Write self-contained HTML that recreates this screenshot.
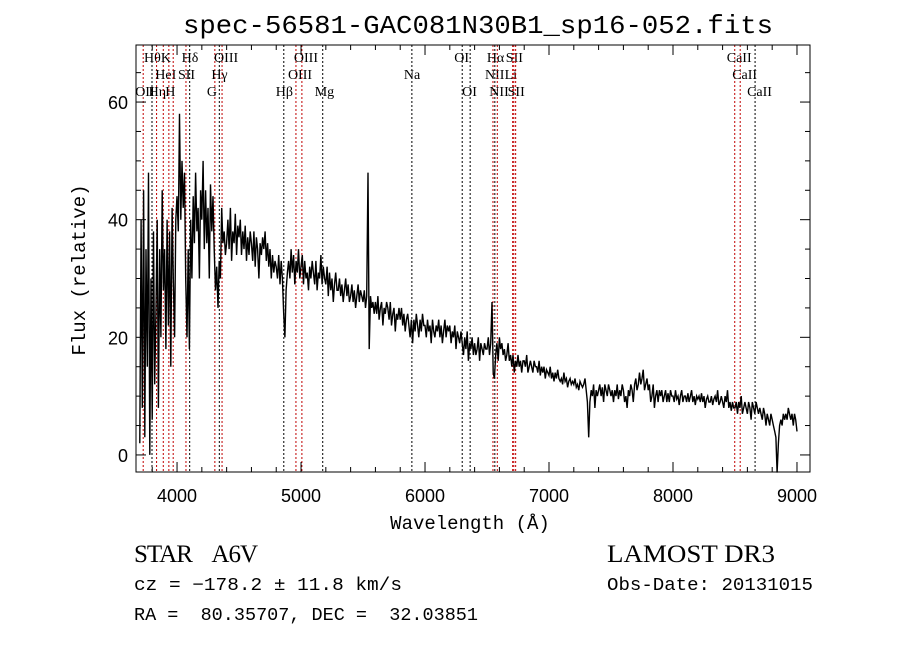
<!DOCTYPE html>
<html><head><meta charset="utf-8"><style>
html,body{margin:0;padding:0;background:#fff;}
svg{display:block;}
</style></head><body>
<svg id="chart" width="900" height="649" xmlns="http://www.w3.org/2000/svg">
<rect width="900" height="649" fill="#fff"/>
<text x="478" y="33" text-anchor="middle" font-family="Liberation Mono, monospace" font-size="26" textLength="590" lengthAdjust="spacingAndGlyphs">spec-56581-GAC081N30B1_sp16-052.fits</text>
<g id="plot"></g>
<text x="470" y="529" text-anchor="middle" font-family="Liberation Mono, monospace" font-size="19">Wavelength (Å)</text>
<text transform="translate(85,270) rotate(-90)" text-anchor="middle" font-family="Liberation Mono, monospace" font-size="19">Flux (relative)</text>
<text x="134" y="562" font-family="Liberation Serif, serif" font-size="25" xml:space="preserve" textLength="124" lengthAdjust="spacing">STAR    A6V</text>
<text x="607" y="562" font-family="Liberation Serif, serif" font-size="25" textLength="168" lengthAdjust="spacingAndGlyphs">LAMOST DR3</text>
<text x="134" y="590" font-family="Liberation Mono, monospace" font-size="18" xml:space="preserve" textLength="268" lengthAdjust="spacingAndGlyphs">cz = −178.2 ± 11.8 km/s</text>
<text x="607" y="590" font-family="Liberation Mono, monospace" font-size="18" textLength="206" lengthAdjust="spacingAndGlyphs">Obs-Date: 20131015</text>
<text x="134" y="620" font-family="Liberation Mono, monospace" font-size="18" xml:space="preserve" textLength="344" lengthAdjust="spacingAndGlyphs">RA =  80.35707, DEC =  32.03851</text>
</svg>
<script>
const startWave = 3700;
const stepWave = 10;
const flux = [
2,40,8,45,3,35,15,48,0,30,
6,38,12,25,40,8,35,20,45,28,
35,18,40,22,38,15,42,30,20,40,
44,38,58,40,50,42,48,30,20,35,
18,40,30,44,36,48,38,42,30,45,
40,50,35,45,36,42,30,46,38,44,
35,28,32,25,33,30,42,36,38,34,
36,40,35,42,33,38,36,41,34,39,
37,40,34,38,35,39,33,37,34,38,
36,33,38,32,37,35,30,36,34,37,
35,38,33,36,32,35,30,34,31,33,
32,30,34,29,33,30,24,20,28,31,
33,30,35,31,34,29,33,31,35,30,
32,34,29,33,30,31,28,32,30,33,
31,29,33,28,31,30,34,29,32,30,
29,32,27,31,28,30,26,29,31,28,
28,30,27,29,26,28,30,27,29,26,
27,29,26,28,25,27,29,26,28,27,
26,28,25,27,48,18,27,25,26,24,
26,24,27,23,25,26,22,25,24,26,
25,23,26,22,24,25,21,24,23,25,
23,25,22,24,21,23,24,22,20,23,
19,23,21,24,22,20,23,21,24,22,
22,20,23,21,22,19,23,21,20,22,
21,23,20,22,19,21,23,20,22,21,
22,19,21,20,22,18,21,20,19,21,
19,17,20,18,21,16,19,18,20,17,
19,17,18,20,16,19,18,17,19,18,
18,20,17,19,26,14,13,17,19,16,
20,18,19,17,18,16,17,19,16,17,
15,17,14,16,15,17,15,16,14,16,
16,15,17,14,15,16,15,14,16,15,
15,14,16,13.5,15,14,15,13,14.5,14,
13.5,15,13,14,12.5,14,13,14.5,13,12.5,
13,12,14,12.5,13,11.5,12.5,13,12,12.5,
12,13,11.5,12,11,12.5,12,11.5,12,13,
11,9,3,9,11,10,12,8,11,10,
11,12,10,11.5,9,12,11,10,12,11,
10,11,9,11,10,12,9.5,11,10,12,
11,9,10,8,11,10,12,11,9,12,
13,11,12,14,12,13,14.5,11,12,13,
11,12,9,10,12,8,10,11,9,11,
10,11,9,10,11,9,10.5,9,11,10,
10,9,11,9.5,10,8.5,10,11,9,10,
10,9,10.5,9,10,11,9,10,8.5,10,
9.5,10,9,10.5,9,10,8,9.5,10,9,
9,10,8.5,9.5,10,9,11,8.5,9,10,
9,8,10,9,11,8,9,7.5,9,8,
8,9,7,9,8,10,7,8,9,8,
7,9,8,6,9,8,7,9,8,7,
8,7,6,8,7,5,7,6,5,7,
6,5,4,3,-3,2,5,6,5,7,
6,7,6,8,7,6,7,5,7,6,
4
];
const xTicks = [4000,5000,6000,7000,8000,9000];
const yTicks = [0,20,40,60];
const lineNames = ["OII","Hθ","Hη","HeI","K","H","SII","Hδ","G","Hγ","OIII","Hβ","OIII","OIII","Mg","Na","OI","OI","NII","Hα","NII","Li","SII","SII","CaII","CaII","CaII"];
const lineWaves = [3727,3798,3835,3889,3934,3969,4072,4102,4305,4341,4363,4861,4959,5007,5175,5894,6300,6364,6548,6563,6583,6707,6716,6731,8498,8542,8662];
const lineRed = [1,0,1,1,1,1,1,0,1,0,1,0,1,1,0,0,0,0,1,0,1,1,1,1,1,1,0];
const labelRow = [2,0,2,1,0,2,1,0,2,1,0,2,1,0,2,1,0,2,1,0,2,1,0,2,0,1,2];

const L=136,R=810,T=45,B=472;
const xmin=3669,xmax=9105,ymin=-2.9,ymax=69.7;
const sx=w=>L+(w-xmin)/(xmax-xmin)*(R-L);
const sy=v=>B-(v-ymin)/(ymax-ymin)*(B-T);
const NS="http://www.w3.org/2000/svg";
const g=document.getElementById('plot');
function mk(t,a){const e=document.createElementNS(NS,t);for(const k in a)e.setAttribute(k,a[k]);g.appendChild(e);return e;}

lineWaves.forEach((w,i)=>{
  const x=sx(w);
  const ln=mk('line',{x1:x,x2:x,y1:T,y2:B,stroke:lineRed[i]?'#c00000':'#000','stroke-width':1,'stroke-dasharray':'2,2'});
  
  
  const tx=mk('text',{x:x-8,y:62+labelRow[i]*17,'font-family':'Liberation Serif, serif','font-size':14});
  
  
  tx.textContent=lineNames[i];
});

let d='';
flux.forEach((v,i)=>{const w=startWave+i*stepWave;d+=(i?'L':'M')+sx(w).toFixed(1)+','+sy(v).toFixed(1);});
const p=mk('path',{d:d,fill:'none',stroke:'#000','stroke-width':1.4,'stroke-linejoin':'miter'});



const fr=mk('rect',{x:L,y:T,width:R-L,height:B-T,fill:'none',stroke:'#000','stroke-width':1});



for(let w=3800;w<=9100;w+=200){
  const x=sx(w);const major=w%1000===0;const len=major?10:5;
  mk('line',{x1:x,x2:x,y1:B,y2:B-len,stroke:'#000'});
  mk('line',{x1:x,x2:x,y1:T,y2:T+len,stroke:'#000'});
}
xTicks.forEach(w=>{
  const t=mk('text',{x:sx(w),y:502,'text-anchor':'middle','font-family':'Liberation Sans, sans-serif','font-size':18});
  
  
  t.textContent=w;
});
for(let v=0;v<=65;v+=5){
  const y=sy(v);const major=v%20===0;const len=major?10:5;
  mk('line',{x1:L,x2:L+len,y1:y,y2:y,stroke:'#000'});
  mk('line',{x1:R,x2:R-len,y1:y,y2:y,stroke:'#000'});
}
yTicks.forEach(v=>{
  const t=mk('text',{x:128,y:sy(v)+7,'text-anchor':'end','font-family':'Liberation Sans, sans-serif','font-size':18});
  
  
  t.textContent=v;
});
</script>
</body></html>
